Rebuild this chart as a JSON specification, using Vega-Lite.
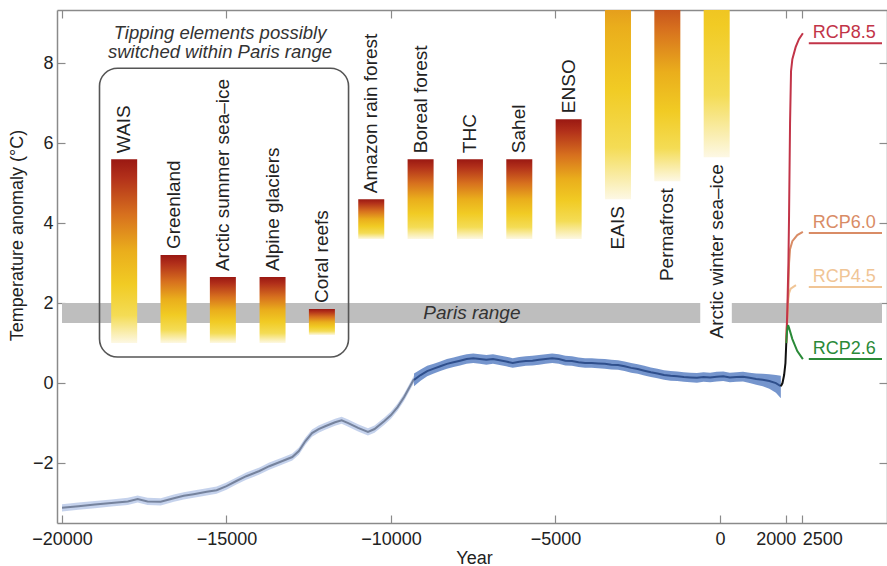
{
  "$schema": "https://vega.github.io/schema/vega-lite/v6.json",
  "width": 830,
  "height": 513,
  "autosize": "none",
  "padding": {"left": 57, "top": 10, "right": 0, "bottom": 43},
  "config": {
    "font": "Liberation Sans",
    "view": {"stroke": null},
    "axis": {
      "domainColor": "#8a8a8a", "domainWidth": 1.5,
      "tickColor": "#8a8a8a", "tickWidth": 1.2, "tickSize": -8,
      "grid": false,
      "labelFont": "Liberation Sans", "labelFontSize": 18, "labelColor": "#222",
      "titleFont": "Liberation Sans", "titleFontSize": 18, "titleFontWeight": "normal", "titleColor": "#222"
    }
  },
  "datasets": {
    "paris": [
      {"year": -20000, "year2": -600, "temp": 1.5, "temp2": 2.0},
      {"year": 360, "year2": 4925, "temp": 1.5, "temp2": 2.0}
    ],
    "box": [
      {"year": -18860, "year2": -11290, "temp": 0.65, "temp2": 7.875}
    ],
    "boxtitle": [
      {"year": -15195, "temp": 7.875, "text": "Tipping elements possibly\nswitched within Paris range"}
    ],
    "paristext": [
      {"year": -7540, "temp": 1.75, "text": "Paris range"}
    ],
    "tipping": [
      {"name": "WAIS", "year": -18110, "temp": 1.0, "temp2": 5.6},
      {"name": "Greenland", "year": -16610, "temp": 1.0, "temp2": 3.2},
      {"name": "Arctic summer sea\u2013ice", "year": -15110, "temp": 1.0, "temp2": 2.65},
      {"name": "Alpine glaciers", "year": -13600, "temp": 1.0, "temp2": 2.65},
      {"name": "Coral reefs", "year": -12100, "temp": 1.2, "temp2": 1.85},
      {"name": "Amazon rain forest", "year": -10600, "temp": 3.6, "temp2": 4.6},
      {"name": "Boreal forest", "year": -9100, "temp": 3.6, "temp2": 5.6},
      {"name": "THC", "year": -7600, "temp": 3.6, "temp2": 5.6},
      {"name": "Sahel", "year": -6100, "temp": 3.6, "temp2": 5.6},
      {"name": "ENSO", "year": -4600, "temp": 3.6, "temp2": 6.6}
    ],
    "tippinghigh": [
      {"name": "EAIS", "year": -3100, "temp": 4.6, "temp2": 13.2},
      {"name": "Permafrost", "year": -1600, "temp": 5.05, "temp2": 10.5},
      {"name": "Arctic winter sea\u2013ice", "year": -100, "temp": 5.65, "temp2": 16.0}
    ],
    "curve": [
      {"series": "glacial", "year": -20000, "temp": -3.12, "lo": -3.21, "hi": -3.03},
      {"series": "glacial", "year": -19500, "temp": -3.08, "lo": -3.17, "hi": -2.99},
      {"series": "glacial", "year": -19000, "temp": -3.04, "lo": -3.13, "hi": -2.95},
      {"series": "glacial", "year": -18500, "temp": -3.0, "lo": -3.09, "hi": -2.91},
      {"series": "glacial", "year": -18000, "temp": -2.96, "lo": -3.05, "hi": -2.87},
      {"series": "glacial", "year": -17700, "temp": -2.9, "lo": -2.99, "hi": -2.81},
      {"series": "glacial", "year": -17400, "temp": -2.96, "lo": -3.05, "hi": -2.87},
      {"series": "glacial", "year": -17000, "temp": -2.97, "lo": -3.06, "hi": -2.88},
      {"series": "glacial", "year": -16600, "temp": -2.88, "lo": -2.97, "hi": -2.79},
      {"series": "glacial", "year": -16300, "temp": -2.82, "lo": -2.91, "hi": -2.73},
      {"series": "glacial", "year": -16000, "temp": -2.78, "lo": -2.87, "hi": -2.69},
      {"series": "glacial", "year": -15600, "temp": -2.72, "lo": -2.81, "hi": -2.63},
      {"series": "glacial", "year": -15300, "temp": -2.68, "lo": -2.77, "hi": -2.59},
      {"series": "glacial", "year": -15000, "temp": -2.58, "lo": -2.67, "hi": -2.49},
      {"series": "glacial", "year": -14700, "temp": -2.45, "lo": -2.54, "hi": -2.36},
      {"series": "glacial", "year": -14400, "temp": -2.33, "lo": -2.42, "hi": -2.24},
      {"series": "glacial", "year": -14000, "temp": -2.2, "lo": -2.29, "hi": -2.11},
      {"series": "glacial", "year": -13700, "temp": -2.08, "lo": -2.17, "hi": -1.99},
      {"series": "glacial", "year": -13300, "temp": -1.95, "lo": -2.04, "hi": -1.86},
      {"series": "glacial", "year": -13000, "temp": -1.85, "lo": -1.94, "hi": -1.76},
      {"series": "glacial", "year": -12800, "temp": -1.7, "lo": -1.79, "hi": -1.61},
      {"series": "glacial", "year": -12600, "temp": -1.45, "lo": -1.54, "hi": -1.36},
      {"series": "glacial", "year": -12400, "temp": -1.25, "lo": -1.34, "hi": -1.16},
      {"series": "glacial", "year": -12200, "temp": -1.15, "lo": -1.24, "hi": -1.06},
      {"series": "glacial", "year": -12000, "temp": -1.08, "lo": -1.17, "hi": -0.99},
      {"series": "glacial", "year": -11700, "temp": -0.98, "lo": -1.07, "hi": -0.89},
      {"series": "glacial", "year": -11500, "temp": -0.93, "lo": -1.02, "hi": -0.84},
      {"series": "glacial", "year": -11300, "temp": -1.0, "lo": -1.09, "hi": -0.91},
      {"series": "glacial", "year": -11000, "temp": -1.12, "lo": -1.21, "hi": -1.03},
      {"series": "glacial", "year": -10700, "temp": -1.22, "lo": -1.31, "hi": -1.13},
      {"series": "glacial", "year": -10500, "temp": -1.15, "lo": -1.24, "hi": -1.06},
      {"series": "glacial", "year": -10200, "temp": -0.95, "lo": -1.04, "hi": -0.86},
      {"series": "glacial", "year": -10000, "temp": -0.8, "lo": -0.89, "hi": -0.71},
      {"series": "glacial", "year": -9800, "temp": -0.6, "lo": -0.69, "hi": -0.51},
      {"series": "glacial", "year": -9600, "temp": -0.35, "lo": -0.44, "hi": -0.26},
      {"series": "glacial", "year": -9400, "temp": -0.05, "lo": -0.14, "hi": 0.04},
      {"series": "glacial", "year": -9300, "temp": 0.1, "lo": 0.01, "hi": 0.19},
      {"series": "holocene", "year": -9300, "temp": 0.08, "lo": -0.08, "hi": 0.24},
      {"series": "holocene", "year": -9100, "temp": 0.2, "lo": 0.06, "hi": 0.34},
      {"series": "holocene", "year": -8900, "temp": 0.3, "lo": 0.17, "hi": 0.43},
      {"series": "holocene", "year": -8700, "temp": 0.36, "lo": 0.24, "hi": 0.48},
      {"series": "holocene", "year": -8500, "temp": 0.42, "lo": 0.3, "hi": 0.54},
      {"series": "holocene", "year": -8300, "temp": 0.48, "lo": 0.36, "hi": 0.6},
      {"series": "holocene", "year": -8100, "temp": 0.52, "lo": 0.4, "hi": 0.64},
      {"series": "holocene", "year": -7900, "temp": 0.56, "lo": 0.44, "hi": 0.68},
      {"series": "holocene", "year": -7700, "temp": 0.6, "lo": 0.48, "hi": 0.72},
      {"series": "holocene", "year": -7500, "temp": 0.62, "lo": 0.5, "hi": 0.74},
      {"series": "holocene", "year": -7300, "temp": 0.6, "lo": 0.48, "hi": 0.72},
      {"series": "holocene", "year": -7100, "temp": 0.58, "lo": 0.46, "hi": 0.7},
      {"series": "holocene", "year": -6900, "temp": 0.6, "lo": 0.48, "hi": 0.72},
      {"series": "holocene", "year": -6700, "temp": 0.57, "lo": 0.45, "hi": 0.69},
      {"series": "holocene", "year": -6500, "temp": 0.54, "lo": 0.42, "hi": 0.66},
      {"series": "holocene", "year": -6300, "temp": 0.5, "lo": 0.38, "hi": 0.62},
      {"series": "holocene", "year": -6100, "temp": 0.53, "lo": 0.41, "hi": 0.65},
      {"series": "holocene", "year": -5900, "temp": 0.55, "lo": 0.43, "hi": 0.67},
      {"series": "holocene", "year": -5700, "temp": 0.56, "lo": 0.44, "hi": 0.68},
      {"series": "holocene", "year": -5500, "temp": 0.58, "lo": 0.46, "hi": 0.7},
      {"series": "holocene", "year": -5300, "temp": 0.6, "lo": 0.48, "hi": 0.72},
      {"series": "holocene", "year": -5100, "temp": 0.62, "lo": 0.5, "hi": 0.74},
      {"series": "holocene", "year": -4900, "temp": 0.6, "lo": 0.48, "hi": 0.72},
      {"series": "holocene", "year": -4700, "temp": 0.56, "lo": 0.44, "hi": 0.68},
      {"series": "holocene", "year": -4500, "temp": 0.55, "lo": 0.43, "hi": 0.67},
      {"series": "holocene", "year": -4300, "temp": 0.52, "lo": 0.4, "hi": 0.64},
      {"series": "holocene", "year": -4100, "temp": 0.5, "lo": 0.38, "hi": 0.62},
      {"series": "holocene", "year": -3900, "temp": 0.5, "lo": 0.38, "hi": 0.62},
      {"series": "holocene", "year": -3700, "temp": 0.49, "lo": 0.37, "hi": 0.61},
      {"series": "holocene", "year": -3500, "temp": 0.48, "lo": 0.36, "hi": 0.6},
      {"series": "holocene", "year": -3300, "temp": 0.46, "lo": 0.34, "hi": 0.58},
      {"series": "holocene", "year": -3100, "temp": 0.45, "lo": 0.33, "hi": 0.57},
      {"series": "holocene", "year": -2900, "temp": 0.42, "lo": 0.3, "hi": 0.54},
      {"series": "holocene", "year": -2700, "temp": 0.38, "lo": 0.26, "hi": 0.5},
      {"series": "holocene", "year": -2500, "temp": 0.35, "lo": 0.23, "hi": 0.47},
      {"series": "holocene", "year": -2300, "temp": 0.31, "lo": 0.19, "hi": 0.43},
      {"series": "holocene", "year": -2100, "temp": 0.27, "lo": 0.15, "hi": 0.39},
      {"series": "holocene", "year": -1900, "temp": 0.24, "lo": 0.12, "hi": 0.36},
      {"series": "holocene", "year": -1700, "temp": 0.2, "lo": 0.08, "hi": 0.32},
      {"series": "holocene", "year": -1500, "temp": 0.18, "lo": 0.06, "hi": 0.3},
      {"series": "holocene", "year": -1300, "temp": 0.17, "lo": 0.05, "hi": 0.29},
      {"series": "holocene", "year": -1100, "temp": 0.15, "lo": 0.03, "hi": 0.27},
      {"series": "holocene", "year": -900, "temp": 0.14, "lo": 0.02, "hi": 0.26},
      {"series": "holocene", "year": -700, "temp": 0.13, "lo": 0.01, "hi": 0.25},
      {"series": "holocene", "year": -500, "temp": 0.15, "lo": 0.03, "hi": 0.27},
      {"series": "holocene", "year": -300, "temp": 0.14, "lo": 0.02, "hi": 0.26},
      {"series": "holocene", "year": -100, "temp": 0.16, "lo": 0.04, "hi": 0.28},
      {"series": "holocene", "year": 100, "temp": 0.17, "lo": 0.05, "hi": 0.29},
      {"series": "holocene", "year": 300, "temp": 0.14, "lo": 0.02, "hi": 0.26},
      {"series": "holocene", "year": 500, "temp": 0.15, "lo": 0.03, "hi": 0.27},
      {"series": "holocene", "year": 700, "temp": 0.16, "lo": 0.04, "hi": 0.28},
      {"series": "holocene", "year": 900, "temp": 0.13, "lo": 0.0, "hi": 0.26},
      {"series": "holocene", "year": 1100, "temp": 0.1, "lo": -0.04, "hi": 0.24},
      {"series": "holocene", "year": 1300, "temp": 0.08, "lo": -0.08, "hi": 0.23},
      {"series": "holocene", "year": 1500, "temp": 0.05, "lo": -0.14, "hi": 0.22},
      {"series": "holocene", "year": 1700, "temp": 0.0, "lo": -0.24, "hi": 0.2},
      {"series": "holocene", "year": 1850, "temp": -0.08, "lo": -0.38, "hi": 0.18},
      {"series": "instrumental", "year": 1850, "temp": -0.08},
      {"series": "instrumental", "year": 1900, "temp": 0.0},
      {"series": "instrumental", "year": 1950, "temp": 0.2},
      {"series": "instrumental", "year": 1990, "temp": 0.5},
      {"series": "instrumental", "year": 2015, "temp": 1.0},
      {"series": "RCP4.5", "year": 2015, "temp": 1.0},
      {"series": "RCP4.5", "year": 2050, "temp": 1.7},
      {"series": "RCP4.5", "year": 2080, "temp": 2.1},
      {"series": "RCP4.5", "year": 2100, "temp": 2.25},
      {"series": "RCP4.5", "year": 2150, "temp": 2.36},
      {"series": "RCP4.5", "year": 2310, "temp": 2.45},
      {"series": "RCP6.0", "year": 2015, "temp": 1.0},
      {"series": "RCP6.0", "year": 2050, "temp": 1.7},
      {"series": "RCP6.0", "year": 2080, "temp": 2.4},
      {"series": "RCP6.0", "year": 2100, "temp": 3.0},
      {"series": "RCP6.0", "year": 2130, "temp": 3.35},
      {"series": "RCP6.0", "year": 2200, "temp": 3.55},
      {"series": "RCP6.0", "year": 2350, "temp": 3.7},
      {"series": "RCP6.0", "year": 2520, "temp": 3.78},
      {"series": "RCP8.5", "year": 2015, "temp": 1.0},
      {"series": "RCP8.5", "year": 2050, "temp": 1.9},
      {"series": "RCP8.5", "year": 2080, "temp": 3.0},
      {"series": "RCP8.5", "year": 2100, "temp": 4.2},
      {"series": "RCP8.5", "year": 2130, "temp": 6.5},
      {"series": "RCP8.5", "year": 2160, "temp": 7.8},
      {"series": "RCP8.5", "year": 2200, "temp": 8.1},
      {"series": "RCP8.5", "year": 2300, "temp": 8.4},
      {"series": "RCP8.5", "year": 2400, "temp": 8.6},
      {"series": "RCP8.5", "year": 2520, "temp": 8.75},
      {"series": "RCP2.6", "year": 2015, "temp": 1.0},
      {"series": "RCP2.6", "year": 2040, "temp": 1.3},
      {"series": "RCP2.6", "year": 2070, "temp": 1.45},
      {"series": "RCP2.6", "year": 2100, "temp": 1.38},
      {"series": "RCP2.6", "year": 2200, "temp": 1.1},
      {"series": "RCP2.6", "year": 2350, "temp": 0.8},
      {"series": "RCP2.6", "year": 2520, "temp": 0.6}
    ],
    "rcp": [
      {"series": "RCP8.5", "year": 2700, "year2": 4925, "temp": 8.5},
      {"series": "RCP6.0", "year": 2700, "year2": 4925, "temp": 3.75},
      {"series": "RCP4.5", "year": 2700, "year2": 4925, "temp": 2.4},
      {"series": "RCP2.6", "year": 2700, "year2": 4925, "temp": 0.6}
    ]
  },
  "resolve": {"axis": {"x": "independent", "y": "independent"}},
  "encoding": {
    "x": {"field": "year", "type": "quantitative", "scale": {"domain": [-20000, 4925], "nice": false, "zero": false}, "axis": null},
    "y": {"field": "temp", "type": "quantitative", "scale": {"domain": [-3.5, 9.33], "nice": false, "zero": false}, "axis": null}
  },
  "layer": [
    {
      "data": {"name": "paris"},
      "mark": {"type": "rect", "color": "#bebebe"},
      "encoding": {
        "x": {"field": "year", "type": "quantitative", "scale": {"domain": [-20000, 4925], "nice": false, "zero": false},
          "axis": {"orient": "bottom", "values": [-20000, -15000, -10000, -5000, 0, 2000, 2500], "format": "d",
            "title": "Year", "labelPadding": 15, "labelFlush": false, "labelOverlap": false,
            "labelOffset": {"expr": "datum.value == 2000 ? -10 : datum.value == 2500 ? 20 : 0"},
            "titleX": 417, "titleY": 40, "titleAlign": "center", "titleBaseline": "alphabetic"}},
        "x2": {"field": "year2"},
        "y": {"field": "temp", "type": "quantitative", "scale": {"domain": [-3.5, 9.33], "nice": false, "zero": false},
          "axis": {"orient": "left", "values": [-2, 0, 2, 4, 6, 8], "title": "Temperature anomaly (°C)", "labelPadding": 12,
            "titleX": -40, "titleY": 225, "titleAngle": 270, "titleAlign": "center", "titleBaseline": "middle"}},
        "y2": {"field": "temp2"}
      }
    },
    {
      "data": {"name": "paris"},
      "mark": {"type": "point", "opacity": 0},
      "encoding": {
        "x": {"field": "year", "type": "quantitative", "scale": {"domain": [-20000, 4925], "nice": false, "zero": false},
          "axis": {"orient": "top", "values": [-20000, -15000, -10000, -5000, 0, 2000, 2500], "labels": false, "title": null}},
        "y": {"field": "temp", "type": "quantitative", "scale": {"domain": [-3.5, 9.33], "nice": false, "zero": false},
          "axis": {"orient": "right", "values": [-2, 0, 2, 4, 6, 8], "labels": false, "title": null}}
      }
    },
    {
      "data": {"name": "paristext"},
      "mark": {"type": "text", "fontSize": 19, "fontStyle": "italic", "color": "#333", "align": "center", "baseline": "middle"},
      "encoding": {"text": {"field": "text"}}
    },
    {
      "data": {"name": "box"},
      "mark": {"type": "rect", "filled": false, "color": "#555", "strokeWidth": 1.6, "cornerRadius": 18},
      "encoding": {"x2": {"field": "year2"}, "y2": {"field": "temp2"}}
    },
    {
      "data": {"name": "boxtitle"},
      "mark": {"type": "text", "fontSize": 18.5, "fontStyle": "italic", "color": "#333", "align": "center", "baseline": "bottom", "lineBreak": "\n", "lineHeight": 19, "dy": -25},
      "encoding": {"text": {"field": "text"}}
    },
    {
      "data": {"name": "tipping"},
      "mark": {"type": "bar", "size": 26, "clip": true,
        "color": {"gradient": "linear", "x1": 0, "y1": 0, "x2": 0, "y2": 1, "stops": [
          {"offset": 0, "color": "#9a1812"}, {"offset": 0.1, "color": "#b2301a"}, {"offset": 0.3, "color": "#d7701e"},
          {"offset": 0.5, "color": "#eaae1c"}, {"offset": 0.68, "color": "#f1cb24"}, {"offset": 0.85, "color": "#f4dc55"},
          {"offset": 1, "color": "#fdf8e4"}]}},
      "encoding": {"y2": {"field": "temp2"}}
    },
    {
      "data": {"name": "tippinghigh"},
      "mark": {"type": "bar", "size": 26, "clip": true,
        "color": {"gradient": "linear", "x1": 0, "y1": 0, "x2": 0, "y2": 1, "stops": [
          {"offset": 0, "color": "#9a1812"}, {"offset": 0.1, "color": "#b2301a"}, {"offset": 0.3, "color": "#d7701e"},
          {"offset": 0.5, "color": "#eaae1c"}, {"offset": 0.68, "color": "#f1cb24"}, {"offset": 0.85, "color": "#f4dc55"},
          {"offset": 1, "color": "#fdf8e4"}]}},
      "encoding": {"y2": {"field": "temp2"}}
    },
    {
      "data": {"name": "tipping"},
      "mark": {"type": "text", "angle": 270, "align": "left", "baseline": "middle", "dx": 6, "fontSize": 19, "color": "#222"},
      "encoding": {"y": {"field": "temp2", "type": "quantitative", "scale": {"domain": [-3.5, 9.33], "nice": false, "zero": false}, "axis": null}, "text": {"field": "name"}}
    },
    {
      "data": {"name": "tippinghigh"},
      "mark": {"type": "text", "angle": 270, "align": "right", "baseline": "middle", "dx": -7, "fontSize": 19, "color": "#222"},
      "encoding": {"text": {"field": "name"}}
    },
    {
      "data": {"name": "curve"},
      "transform": [{"filter": "datum.series == 'glacial'"}],
      "mark": {"type": "area", "color": "#bfcdea", "opacity": 0.9},
      "encoding": {"y": {"field": "lo", "type": "quantitative", "scale": {"domain": [-3.5, 9.33], "nice": false, "zero": false}, "axis": null}, "y2": {"field": "hi"}}
    },
    {
      "data": {"name": "curve"},
      "transform": [{"filter": "datum.series == 'holocene'"}],
      "mark": {"type": "area", "color": "#5d83c4", "opacity": 0.85},
      "encoding": {"y": {"field": "lo", "type": "quantitative", "scale": {"domain": [-3.5, 9.33], "nice": false, "zero": false}, "axis": null}, "y2": {"field": "hi"}}
    },
    {
      "data": {"name": "curve"},
      "mark": {"type": "line", "strokeWidth": 2},
      "encoding": {
        "color": {"field": "series", "type": "nominal", "legend": null,
          "scale": {"domain": ["glacial", "holocene", "instrumental", "RCP8.5", "RCP6.0", "RCP4.5", "RCP2.6"],
                    "range": ["#76839d", "#2f4f8c", "#111111", "#c23448", "#d98c66", "#f0c596", "#2a8a38"]}}
      }
    },
    {
      "data": {"name": "rcp"},
      "mark": {"type": "rule", "strokeWidth": 2},
      "encoding": {"x2": {"field": "year2"}, "color": {"field": "series", "type": "nominal", "legend": null}}
    },
    {
      "data": {"name": "rcp"},
      "mark": {"type": "text", "align": "left", "baseline": "alphabetic", "dx": 4, "dy": -5, "fontSize": 18},
      "encoding": {"text": {"field": "series"}, "color": {"field": "series", "type": "nominal", "legend": null}}
    }
  ]
}
